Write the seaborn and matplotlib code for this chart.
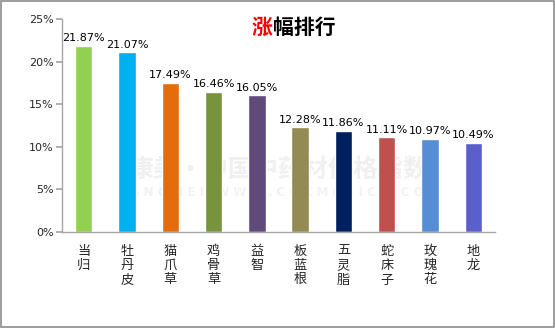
import matplotlib
matplotlib.use("Agg")
import matplotlib.pyplot as plt
import seaborn as sns
import pandas as pd
from matplotlib.patches import Rectangle

categories = ["当归", "牡丹皮", "猫爪草", "鸡骨草", "益智", "板蓝根", "五灵脂", "蛇床子", "玫瑰花", "地龙"]
values = [21.87, 21.07, 17.49, 16.46, 16.05, 12.28, 11.86, 11.11, 10.97, 10.49]
colors = ["#92D050", "#00B0F0", "#E46C0A", "#77933C", "#604A7B",
          "#948A54", "#002060", "#C0504D", "#558ED5", "#5B5FCB"]
yticks = [0, 5, 10, 15, 20, 25]

sns.set_theme(style="white")
plt.rcParams['font.family'] = ['Noto Sans CJK SC', 'DejaVu Sans']

fig = plt.figure(figsize=(5.55, 3.28), dpi=100)
ax = fig.add_axes([62/555, 1-232/328, (495-62)/555, (232-19)/328])

df = pd.DataFrame({"cat": categories, "val": values})
sns.barplot(data=df, x="cat", y="val", hue="cat", palette=colors, legend=False,
            width=0.4, ax=ax, saturation=1, zorder=2)

for i, v in enumerate(values):
    ax.text(i, v + 0.3, f"{v:.2f}%", ha="center", va="bottom", fontsize=8,
            family=['DejaVu Sans'], color="#000000", zorder=3)

ax.set_ylim(0, 25)
ax.set_xlim(-0.5, len(categories) - 0.5)
ax.set_yticks(yticks)
ax.set_yticklabels([f"{t}%" for t in yticks], fontsize=8, family=['DejaVu Sans'])
ax.set_xticks(range(len(categories)))
ax.set_xticklabels(["\n".join(c) for c in categories], fontsize=9.5, linespacing=1.15, va="top")
ax.set_xlabel("")
ax.set_ylabel("")
for s in ["top", "right"]:
    ax.spines[s].set_visible(False)
for s in ["left", "bottom"]:
    ax.spines[s].set_color("#A6A6A6")
    ax.spines[s].set_linewidth(1)
ax.tick_params(axis="y", which="both", left=True, length=4, color="#A6A6A6", pad=2)
ax.tick_params(axis="x", bottom=False, pad=3)

# watermark (behind bars)
ax.text(0.5, (232-171)/213, "康美·中国中药材价格指数", transform=ax.transAxes, ha="center",
        va="center", fontsize=18, color="#F0F0F0", fontweight="bold", zorder=0.5)
ax.text(0.5, (232-193)/213, "K A N G M E I   W W W . C N K M P R I C E . C O M",
        transform=ax.transAxes, ha="center", va="center", fontsize=8.5, color="#F2F2F2",
        fontweight="bold", zorder=0.5, family=['DejaVu Sans'])

# title
tx = 262/555
fig.text(tx, 1-27/328, "涨", ha="center", va="center", fontsize=15,
         color="#FF0000", fontweight="bold")
fig.text(tx + 0.02, 1-27/328, "幅排行", ha="left", va="center", fontsize=15,
         color="#000000", fontweight="bold")

# border
fig.patches.append(Rectangle((0.001, 0.002), 0.997, 0.995, transform=fig.transFigure,
                             fill=False, edgecolor="#8C8C8C", linewidth=1.2))

fig.savefig("out.png", dpi=100)
